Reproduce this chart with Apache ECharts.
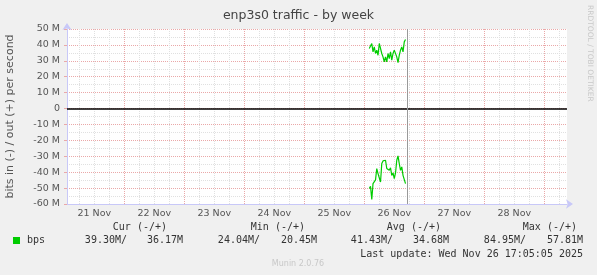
<!DOCTYPE html>
<html><head><meta charset="utf-8">
<script src="https://cdn.jsdelivr.net/npm/echarts@6/dist/echarts.min.js"></script>
<style>html,body{margin:0;padding:0;background:#f0f0f0}#c{width:597px;height:275px}</style>
</head><body><div id="c"></div>
<script>
// hours since 21 Nov 00:00
const dayLabels = ['21 Nov','22 Nov','23 Nov','24 Nov','25 Nov','26 Nov','27 Nov','28 Nov'];
const yTicks = [-60,-50,-40,-30,-20,-10,0,10,20,30,40,50];
const seriesStartHour = 122;   // 26 Nov 02:00
const seriesStepHour = 0.5;    // 30-minute averages
const nowHour = 137.08;        // last update 26 Nov 17:05
// out (+), Mbit/s
const outValues = [37.7,36.7,40.9,35.6,38.7,34.6,36.7,33.5,40.9,41.9,34.6,32.5,29.3,32.5,29.3,34.6,31.4,35.6,30.4,34.6,36.7,35.6,32.5,28.9,33.5,36.7,38.7,35.6,41.9,43.4];
// in (-), Mbit/s (drawn negative)
const inValues = [-50.3,-48.9,-57.2,-47.2,-46.2,-44.8,-37.7,-40.9,-39.8,-46.2,-34.6,-32.9,-32.9,-32.5,-37.7,-36.7,-38.8,-37.2,-42.0,-40.5,-44.0,-40.5,-32.5,-29.8,-34.6,-38.8,-36.7,-42.0,-43.0,-47.2];
const statHeaders = ['Cur (-/+)','Min (-/+)','Avg (-/+)','Max (-/+)'];
const statIn  = ['39.30M/','24.04M/','41.43M/','84.95M/'];
const statOut = ['36.17M','20.45M','34.68M','57.81M'];
const lastUpdate = 'Last update: Wed Nov 26 17:05:05 2025';

const xMin = 1.08, xMax = 201.1;
const midnights = dayLabels.map((d,i)=>24*(i+1));
const noons = dayLabels.map((d,i)=>24*i+12);
const sixHours = [];
for (let h = 6; h < xMax; h += 6) if (h % 24 !== 0) sixHours.push(h);

const toPairs = (vals) => vals.map((v,i)=>[seriesStartHour + i*seriesStepHour, v]);

const mono = 'DejaVu Sans Mono';
const txt = '#333';
const graphics = [];
const hdrRight = [167,305,441,577];
const inRight = [127,260,393,526];
const outRight = [183,317,449,583];
statHeaders.forEach((h,i)=>graphics.push({type:'text',x:hdrRight[i],y:227,style:{text:h,font:'10px '+mono,fill:txt,textAlign:'right',textVerticalAlign:'middle'}}));
statIn.forEach((h,i)=>graphics.push({type:'text',x:inRight[i],y:240,style:{text:h,font:'10px '+mono,fill:txt,textAlign:'right',textVerticalAlign:'middle'}}));
statOut.forEach((h,i)=>graphics.push({type:'text',x:outRight[i],y:240,style:{text:h,font:'10px '+mono,fill:txt,textAlign:'right',textVerticalAlign:'middle'}}));
graphics.push({type:'rect',shape:{x:13,y:237,width:7,height:7},style:{fill:'#00cc00'}});
graphics.push({type:'text',x:27,y:240,style:{text:'bps',font:'10px '+mono,fill:txt,textAlign:'left',textVerticalAlign:'middle'}});
graphics.push({type:'text',x:583,y:254,style:{text:lastUpdate,font:'10px '+mono,fill:txt,textAlign:'right',textVerticalAlign:'middle'}});
graphics.push({type:'text',x:298,y:264,style:{text:'Munin 2.0.76',font:'8px DejaVu Sans',fill:'#c8c8c8',textAlign:'center',textVerticalAlign:'middle'}});
graphics.push({type:'text',x:590,y:5,rotation:-Math.PI/2,style:{text:'RRDTOOL / TOBI OETIKER',font:'7.5px DejaVu Sans',fill:'#c8c8c8',textAlign:'left',textVerticalAlign:'middle'}});

const chart = echarts.init(document.getElementById('c'), null, {renderer:'canvas'});
chart.setOption({
  backgroundColor:'#f0f0f0',
  animation:false,
  title:{text:'enp3s0 traffic - by week',left:'center',top:4,textStyle:{fontFamily:'DejaVu Sans',fontSize:12.5,fontWeight:'normal',color:'#444'}},
  grid:{left:67,right:30,top:29,bottom:71,containLabel:false,outerBoundsMode:'none',show:true,backgroundColor:'#ffffff',borderWidth:0},
  xAxis:[{
    type:'value',min:xMin,max:xMax,position:'bottom',
    axisLine:{onZero:false,lineStyle:{color:'#c8c8f8',width:1},symbol:['none','arrow'],symbolSize:[7,7],symbolOffset:[0,6]},
    axisTick:{show:false,customValues:midnights},
    axisLabel:{customValues:noons,formatter:(v)=>dayLabels[Math.round((v-12)/24)],color:'#555',fontFamily:'DejaVu Sans',fontSize:9.5,margin:5},
    splitLine:{show:true,lineStyle:{color:'#eaa8a8',type:[1,1],width:1}}
  },{
    type:'value',min:xMin,max:xMax,position:'bottom',offset:0,
    axisLine:{show:false,onZero:false},axisLabel:{show:false},
    axisTick:{show:false,customValues:sixHours},
    splitLine:{show:true,lineStyle:{color:'#e0e0e0',type:[1,1],width:1}}
  }],
  yAxis:{
    type:'value',min:-60,max:50,interval:10,
    name:'bits in (-) / out (+) per second',nameLocation:'middle',nameGap:51,
    nameTextStyle:{color:'#555',fontFamily:'DejaVu Sans',fontSize:11},
    axisLine:{show:true,lineStyle:{color:'#c8c8f8',width:1},symbol:['none','arrow'],symbolSize:[7,7],symbolOffset:[0,6]},
    axisTick:{show:true,length:3,lineStyle:{color:'#eaa8a8'}},
    axisLabel:{formatter:(v)=>v===0?'0':v+' M',color:'#555',fontFamily:'DejaVu Sans',fontSize:9.5,margin:7},
    splitLine:{show:true,lineStyle:{color:'#eaa8a8',type:[1,1],width:1}},
    minorTick:{show:false,splitNumber:2},
    minorSplitLine:{show:true,lineStyle:{color:'#e0e0e0',type:[1,1],width:1}}
  },
  series:[{
    type:'line',name:'out',data:toPairs(outValues),showSymbol:false,
    lineStyle:{color:'#00cc00',width:1.2},itemStyle:{color:'#00cc00'},
    markLine:{silent:true,symbol:'none',label:{show:false},animation:false,
      data:[{yAxis:0,lineStyle:{color:'#000',width:1.5,type:'solid'}},
            {xAxis:nowHour,lineStyle:{color:'#999',width:1,type:'solid'}}]}
  },{
    type:'line',name:'in',data:toPairs(inValues),showSymbol:false,
    lineStyle:{color:'#00cc00',width:1.2},itemStyle:{color:'#00cc00'}
  }],
  graphic:graphics
});
</script></body></html>
